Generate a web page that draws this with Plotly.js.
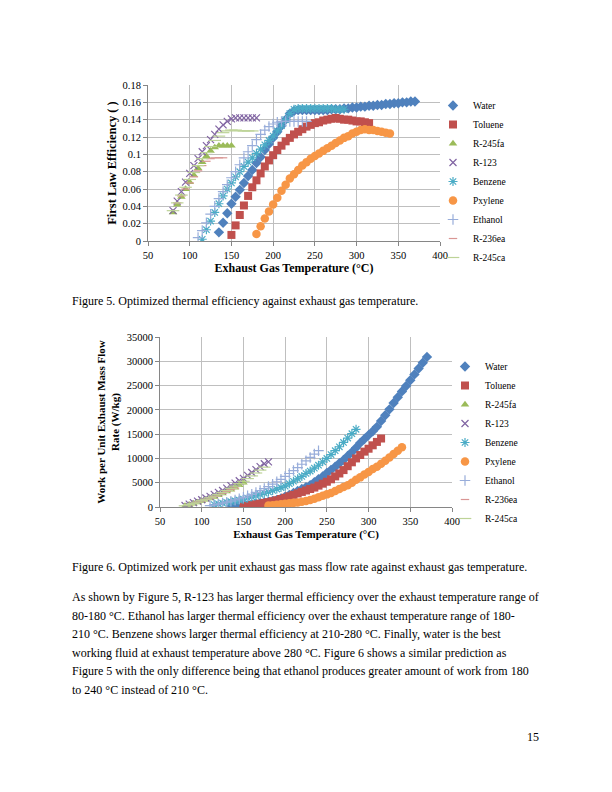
<!DOCTYPE html>
<html>
<head>
<meta charset="utf-8">
<script src="https://cdn.plot.ly/plotly-3.0.1.min.js"></script>
<style>
html,body{margin:0;padding:0;background:#fff;}
#page{width:612px;height:792px;}
</style>
</head>
<body>
<div id="page"></div>
<script>
// ---------- DATA ----------
const seriesNames = ["Water","Toluene","R-245fa","R-123","Benzene","Pxylene","Ethanol","R-236ea","R-245ca"];

const waterT = [135,140,145,150,155,160,165,170,175,180,185,190,195,200,205,210,215,220,225,230,235,240,245,250,255,260,265,270,275,280,285,290,295,300,305,310,315,320,325,330,335,340,345,350,355,360,365,370];
const waterEff = [0.010,0.021,0.032,0.043,0.051,0.059,0.067,0.075,0.082,0.090,0.097,0.105,0.112,0.119,0.126,0.133,0.140,0.147,0.150,0.151,0.151,0.151,0.151,0.151,0.151,0.151,0.151,0.152,0.152,0.152,0.153,0.153,0.154,0.154,0.155,0.155,0.156,0.156,0.157,0.157,0.158,0.158,0.159,0.159,0.160,0.160,0.161,0.161];
const waterWork = [50,150,250,350,450,550,650,800,950,1100,1250,1450,1750,2100,2500,2900,3300,3700,4100,4500,5100,5700,6300,7000,7650,8300,9000,9700,10500,11300,12200,13200,14000,14800,15600,16500,17700,18900,20100,21400,22600,23800,24900,26100,27300,28500,29700,30900];

const tolT = [150,155,160,165,170,175,180,185,190,195,200,205,210,215,220,225,230,235,240,245,250,255,260,265,270,275,280,285,290,295,300,305,310,315];
const tolEff = [0.007,0.018,0.030,0.041,0.052,0.062,0.070,0.078,0.086,0.093,0.099,0.105,0.110,0.115,0.119,0.123,0.126,0.129,0.132,0.134,0.136,0.137,0.139,0.140,0.141,0.142,0.141,0.140,0.140,0.139,0.138,0.138,0.137,0.136];
const tolWork = [100,250,400,550,700,850,1000,1200,1400,1650,1900,2200,2500,2800,3100,3400,3700,4000,4400,4800,5200,5700,6300,6900,7600,8400,9200,10000,10700,11400,12000,12700,13400,14100];

const faT = [80,85,90,95,100,105,110,115,120,125,130,135,140,145,150];
const faEff = [0.033,0.042,0.051,0.060,0.068,0.076,0.084,0.091,0.098,0.104,0.108,0.110,0.110,0.110,0.110];
const faWork = [200,450,700,950,1200,1500,1800,2100,2450,2800,3200,3600,4000,4500,5000];

const r123T = [80,85,90,95,100,105,110,115,120,125,130,135,140,145,150,155,160,165,170,175,180];
const r123Eff = [0.035,0.046,0.057,0.068,0.078,0.087,0.095,0.103,0.110,0.117,0.123,0.129,0.134,0.138,0.141,0.142,0.142,0.142,0.142,0.142,0.142];
const r123Work = [300,600,900,1200,1500,1850,2200,2600,3000,3400,3900,4400,4900,5400,5900,6500,7100,7700,8300,8900,9300];

const bzT = [115,120,125,130,135,140,145,150,155,160,165,170,175,180,185,190,195,200,205,210,215,220,225,230,235,240,245,250,255,260,265,270,275,280,285];
const bzEff = [0.002,0.013,0.023,0.033,0.043,0.052,0.060,0.067,0.074,0.080,0.086,0.091,0.096,0.101,0.106,0.111,0.116,0.121,0.127,0.133,0.140,0.147,0.152,0.153,0.153,0.153,0.153,0.153,0.153,0.153,0.153,0.153,0.152,0.152,0.152];
const bzWork = [500,650,800,950,1100,1250,1400,1600,1850,2100,2350,2600,2850,3100,3400,3700,4000,4300,4800,5300,5800,6300,6900,7400,8000,8600,9300,10000,10800,11600,12400,13300,14200,15100,16000];

const pxT = [180,185,190,195,200,205,210,215,220,225,230,235,240,245,250,255,260,265,270,275,280,285,290,295,300,305,310,315,320,325,330,335,340];
const pxEff = [0.008,0.017,0.026,0.034,0.042,0.050,0.058,0.065,0.072,0.077,0.082,0.087,0.091,0.095,0.098,0.101,0.104,0.107,0.110,0.113,0.116,0.119,0.121,0.124,0.126,0.128,0.129,0.128,0.128,0.127,0.126,0.125,0.124];
const pxWork = [300,380,460,550,650,750,850,950,1100,1250,1450,1700,2000,2300,2600,2900,3300,3700,4100,4500,5000,5600,6100,6700,7200,7800,8300,8900,9500,10200,10900,11600,12300];

const etT = [110,115,120,125,130,135,140,145,150,155,160,165,170,175,180,185,190,195,200,205,210,215,220,225,230,235,240];
const etEff = [0.004,0.012,0.021,0.031,0.040,0.049,0.057,0.065,0.073,0.080,0.088,0.096,0.103,0.110,0.117,0.123,0.128,0.132,0.135,0.137,0.138,0.138,0.138,0.138,0.138,0.138,0.138];
const etWork = [300,450,600,800,1000,1200,1450,1700,2000,2300,2600,3000,3400,3800,4200,4700,5200,5700,6300,6900,7500,8100,8800,9500,10200,10900,11600];

const eaT = [85,90,95,100,105,110,115,120,125,130,135,140];
const eaEff = [0.044,0.052,0.060,0.067,0.074,0.081,0.087,0.092,0.095,0.096,0.096,0.096];
const eaWork = [500,750,1000,1250,1550,1850,2150,2500,2850,3200,3550,3900];

const caT = [80,85,90,95,100,105,110,115,120,125,130,135,140,145,150,155,160,165,170,175];
const caEff = [0.035,0.044,0.053,0.062,0.071,0.079,0.087,0.095,0.102,0.109,0.116,0.121,0.125,0.127,0.128,0.128,0.127,0.127,0.127,0.127];
const caWork = [250,500,750,1000,1300,1600,1900,2250,2600,3000,3400,3850,4300,4800,5300,5850,6400,7000,7600,8200];

const xTicks = [50,100,150,200,250,300,350,400];
const effTicks = [0,0.02,0.04,0.06,0.08,0.1,0.12,0.14,0.16,0.18];
const workTicks = [0,5000,10000,15000,20000,25000,30000,35000];

// ---------- STYLE ----------
const styles = {
  "Water":   {symbol:"diamond", color:"#4F81BD", size:8},
  "Toluene": {symbol:"square", color:"#C0504D", size:8},
  "R-245fa": {symbol:"triangle-up", color:"#9BBB59", size:7.5},
  "R-123":   {symbol:"x-thin-open", color:"#8064A2", size:7},
  "Benzene": {symbol:"asterisk-open", color:"#4BACC6", size:7.5},
  "Pxylene": {symbol:"circle", color:"#F79646", size:8.5},
  "Ethanol": {symbol:"cross-thin-open", color:"#98ADDA", size:7.5},
  "R-236ea": {symbol:"line-ew-open", color:"#D99694", size:6},
  "R-245ca": {symbol:"line-ew-open", color:"#BDD397", size:9}
};

const effSeries = {
  "Water":[waterT,waterEff],"Toluene":[tolT,tolEff],"R-245fa":[faT,faEff],"R-123":[r123T,r123Eff],
  "Benzene":[bzT,bzEff],"Pxylene":[pxT,pxEff],"Ethanol":[etT,etEff],"R-236ea":[eaT,eaEff],"R-245ca":[caT,caEff]
};
const workSeries = {
  "Water":[waterT,waterWork],"Toluene":[tolT,tolWork],"R-245fa":[faT,faWork],"R-123":[r123T,r123Work],
  "Benzene":[bzT,bzWork],"Pxylene":[pxT,pxWork],"Ethanol":[etT,etWork],"R-236ea":[eaT,eaWork],"R-245ca":[caT,caWork]
};

function mk(name, xy, xa, ya, leg){
  const s = styles[name];
  const open = s.symbol.indexOf("open") >= 0;
  return {
    type:"scatter", mode:"markers", name:name, x:xy[0], y:xy[1],
    xaxis:xa, yaxis:ya, legend:leg, legendgroup:leg+name,
    marker:{symbol:s.symbol, size:s.size, color:s.color,
            line:{color:s.color, width: open ? 1.2 : 0}},
    hoverinfo:"x+y+name"
  };
}

const traces = [];
seriesNames.forEach(n => traces.push(mk(n, effSeries[n], "x", "y", "legend")));
seriesNames.forEach(n => traces.push(mk(n, workSeries[n], "x2", "y2", "legend2")));

const W = 612, H = 792;
const px = v => v / W;
const py = v => 1 - v / H;

const FONT = "Liberation Serif, Times New Roman, serif";
const gridC = "#BFBFBF", axC = "#868686";

function xaxisCfg(l, r, anchor, titleSize){
  return {
    domain:[px(l), px(r)], anchor:anchor, range:[50,400], tickvals:xTicks,
    showgrid:true, gridcolor:gridC, gridwidth:1, zeroline:false,
    showline:true, linecolor:axC, linewidth:1, ticks:"outside", ticklen:4, tickcolor:axC,
    tickfont:{family:FONT, size:10.5, color:"#000"},
    title:{text:"Exhaust Gas Temperature (°C)", font:{family:FONT, size:titleSize, color:"#000", weight:"bold"}, standoff:4},
    fixedrange:true
  };
}

const legendCfg = (x, y) => ({
  x:px(x), y:py(y), xanchor:"left", yanchor:"top", bgcolor:"rgba(0,0,0,0)",
  font:{family:FONT, size:9.5, color:"#000"}, tracegroupgap:0, itemsizing:"trace",
  itemwidth:30, traceorder:"normal"
});

const layout = {
  width:W, height:H, margin:{l:0,r:0,t:0,b:0}, paper_bgcolor:"#fff", plot_bgcolor:"#fff",
  font:{family:FONT, color:"#000"},
  xaxis: xaxisCfg(148, 440, "y", 12),
  yaxis: {
    domain:[py(241), py(85)], anchor:"x", range:[0,0.18], tickvals:effTicks,
    showgrid:true, gridcolor:gridC, zeroline:false, showline:true, linecolor:axC, linewidth:1,
    ticks:"outside", ticklen:4, tickcolor:axC,
    tickfont:{family:FONT, size:10.5, color:"#000"},
    title:{text:"First Law Efficiency ( )", font:{family:FONT, size:12.5, color:"#000", weight:"bold"}, standoff:3},
    fixedrange:true
  },
  xaxis2: xaxisCfg(160, 452, "y2", 11),
  yaxis2: {
    domain:[py(507), py(337)], anchor:"x2", range:[0,35000], tickvals:workTicks, tickformat:"d",
    showgrid:true, gridcolor:gridC, zeroline:false, showline:true, linecolor:axC, linewidth:1,
    ticks:"outside", ticklen:4, tickcolor:axC,
    tickfont:{family:FONT, size:10.5, color:"#000"},
    title:{text:"Work per Unit Exhaust Mass Flow<br>Rate (W/kg)", font:{family:FONT, size:11, color:"#000", weight:"bold"}, standoff:4},
    fixedrange:true
  },
  legend: legendCfg(433, 91),
  legend2: legendCfg(445, 352),
  showlegend:true,
  annotations:[]
};

const textLines = [
  {t:"Figure 5. Optimized thermal efficiency against exhaust gas temperature.", y:301},
  {t:"Figure 6. Optimized work per unit exhaust gas mass flow rate against exhaust gas temperature.", y:567},
  {t:"As shown by Figure 5, R-123 has larger thermal efficiency over the exhaust temperature range of", y:597},
  {t:"80-180 °C. Ethanol has larger thermal efficiency over the exhaust temperature range of 180-", y:615.5},
  {t:"210 °C. Benzene shows larger thermal efficiency at 210-280 °C. Finally, water is the best", y:634},
  {t:"working fluid at exhaust temperature above 280 °C. Figure 6 shows a similar prediction as", y:652.5},
  {t:"Figure 5 with the only difference being that ethanol produces greater amount of work from 180", y:671},
  {t:"to 240 °C instead of 210 °C.", y:689.5}
];
textLines.forEach(l => layout.annotations.push({
  xref:"paper", yref:"paper", x:px(70), y:py(l.y), xanchor:"left", yanchor:"middle",
  text:l.t, showarrow:false, font:{family:FONT, size:12, color:"#000"}
}));
layout.annotations.push({xref:"paper", yref:"paper", x:px(541), y:py(737), xanchor:"right", yanchor:"middle",
  text:"15", showarrow:false, font:{family:FONT, size:12, color:"#000"}});

Plotly.newPlot("page", traces, layout, {displayModeBar:false, staticPlot:true});
</script>
</body>
</html>
